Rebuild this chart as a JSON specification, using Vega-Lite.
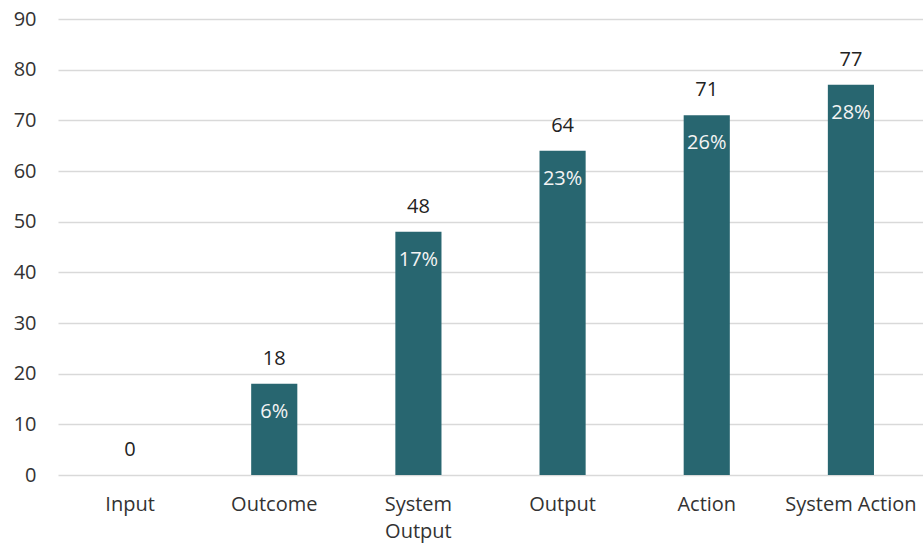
{
  "$schema": "https://vega.github.io/schema/vega-lite/v6.json",
  "width": 865,
  "height": 456,
  "autosize": "none",
  "padding": {"left": 58, "top": 19, "right": 0, "bottom": 73},
  "background": "white",
  "config": {"view": {"stroke": null}, "font": "Open Sans"},
  "data": {"values": [
    {"category": "Input", "value": 0, "pct": ""},
    {"category": "Outcome", "value": 18, "pct": "6%"},
    {"category": "System Output", "value": 48, "pct": "17%"},
    {"category": "Output", "value": 64, "pct": "23%"},
    {"category": "Action", "value": 71, "pct": "26%"},
    {"category": "System Action", "value": 77, "pct": "28%"}
  ]},
  "encoding": {
    "x": {"field": "category", "type": "nominal", "sort": null,
      "scale": {"paddingInner": 0.68, "paddingOuter": 0.34},
      "axis": {"title": null, "labelAngle": 0, "domain": false, "ticks": false,
        "labelFontSize": 20, "labelColor": "#333333", "labelPadding": 19, "labelLineHeight": 27,
        "labelExpr": "datum.label == 'System Output' ? ['System', 'Output'] : datum.label"}},
    "y": {"field": "value", "type": "quantitative",
      "scale": {"domain": [0, 90], "nice": false},
      "axis": {"title": null, "values": [0,10,20,30,40,50,60,70,80,90], "domain": false, "ticks": false,
        "labelOverlap": false, "labelFlush": false,
        "gridColor": "#d9d9d9", "gridWidth": 1.5, "labelFontSize": 20, "labelColor": "#333333", "labelPadding": 22}}
  },
  "layer": [
    {"mark": {"type": "bar", "color": "#286670"}},
    {"mark": {"type": "text", "baseline": "alphabetic", "dy": -19, "fontSize": 20, "color": "#222222"},
      "encoding": {"text": {"field": "value", "type": "quantitative"}}},
    {"mark": {"type": "text", "baseline": "middle", "dy": 28, "fontSize": 20, "color": "#f4f4f4"},
      "encoding": {"text": {"field": "pct", "type": "nominal"}}}
  ]
}
